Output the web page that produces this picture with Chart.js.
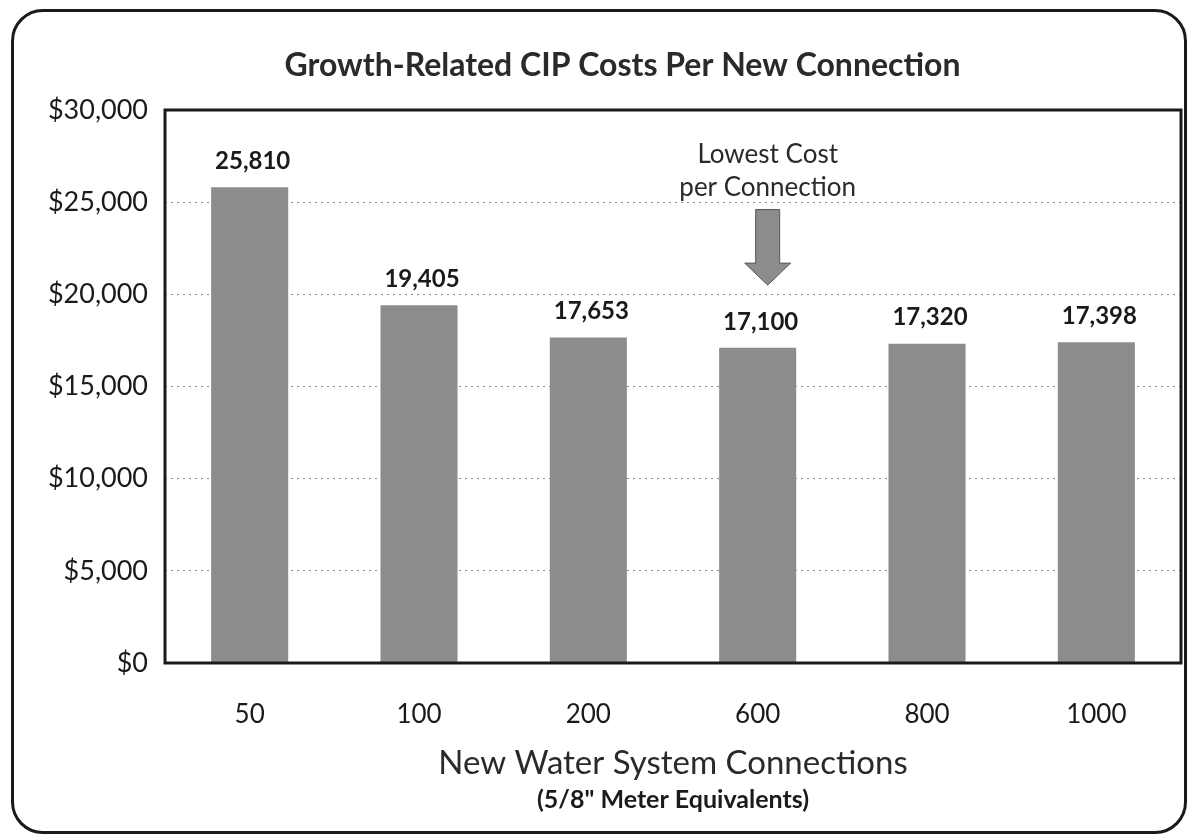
<!DOCTYPE html>
<html>
<head>
<meta charset="utf-8">
<title>Growth-Related CIP Costs Per New Connection</title>
<script src="https://cdn.jsdelivr.net/npm/chart.js@4"></script>
<style>
  html, body { margin: 0; padding: 0; background: #fff; }
  .outline { position: absolute; left: 11px; top: 9px; width: 1170px; height: 819px; border: 3px solid #1a1a1a; border-radius: 32px; }
  .wrap { position: absolute; left: 0; top: 0; width: 1189px; height: 840px; }
</style>
</head>
<body>
<div class="outline"></div>
<div class="wrap"><canvas id="costChart"></canvas></div>
<script>
const connections = ['50', '100', '200', '600', '800', '1000'];
const costPerConnection = [25810, 19405, 17653, 17100, 17320, 17398];
const costTicks = [0, 5000, 10000, 15000, 20000, 25000, 30000];

// callout over the cheapest option, placed in dollar units
const noteLines = ['Lowest Cost', 'per Connection'];
const noteLineValues = [27560, 25770];
const arrowFrom = 24600;
const arrowTo = 20500;

const chartTitle = 'Growth-Related CIP Costs Per New Connection';
const subTitle = '(5/8" Meter Equivalents)';
const ink = '#1a1a1a';
const barGray = '#8c8c8c';

const money = v => '$' + v.toLocaleString('en-US');

const chartExtras = {
  id: 'chartExtras',
  afterDatasetsDraw(chart) {
    const { ctx, chartArea: a, scales: { x, y } } = chart;
    ctx.save();
    ctx.textAlign = 'center';
    ctx.textBaseline = 'middle';

    // heading, sits a bit right of the canvas middle
    ctx.fillStyle = '#2a2a2a';
    ctx.font = 'bold 32px Lato';
    ctx.fillText(chartTitle, chart.width / 2 + 28, a.top - 44);

    // value labels above the bars
    ctx.fillStyle = ink;
    ctx.font = 'bold 24px Lato';
    costPerConnection.forEach((v, i) => {
      ctx.fillText(v.toLocaleString('en-US'), x.getPixelForValue(i) + 3, y.getPixelForValue(v) - 26);
    });

    // lowest cost note + arrow
    const low = costPerConnection.indexOf(Math.min(...costPerConnection));
    const cx = x.getPixelForValue(low) + 10;
    ctx.font = '26px Lato';
    ctx.fillStyle = '#2a2a2a';
    noteLines.forEach((t, i) => ctx.fillText(t, cx, y.getPixelForValue(noteLineValues[i])));

    const top = y.getPixelForValue(arrowFrom);
    const tip = y.getPixelForValue(arrowTo);
    const neck = tip - 22;
    ctx.beginPath();
    ctx.moveTo(cx - 12, top);
    ctx.lineTo(cx + 12, top);
    ctx.lineTo(cx + 12, neck);
    ctx.lineTo(cx + 23, neck);
    ctx.lineTo(cx, tip);
    ctx.lineTo(cx - 23, neck);
    ctx.lineTo(cx - 12, neck);
    ctx.closePath();
    ctx.fillStyle = barGray;
    ctx.fill();
    ctx.strokeStyle = '#555';
    ctx.lineWidth = 1;
    ctx.stroke();

    // box around the plot
    ctx.strokeStyle = ink;
    ctx.lineWidth = 3;
    ctx.strokeRect(a.left, a.top, a.width, a.height);

    // second line of the x axis title
    ctx.fillStyle = ink;
    ctx.font = 'bold 25px Lato';
    ctx.fillText(subTitle, (a.left + a.right) / 2, x.bottom - 40);
    ctx.restore();
  }
};

const ctx = document.getElementById('costChart').getContext('2d');

const chart = new Chart(ctx, {
  type: 'bar',
  data: {
    labels: connections,
    datasets: [{
      label: 'Cost per connection',
      data: costPerConnection,
      backgroundColor: barGray,
      barPercentage: 0.455,
      categoryPercentage: 1
    }]
  },
  options: {
    responsive: true,
    maintainAspectRatio: false,
    animation: false,
    layout: { padding: { top: 110, left: 40, right: 8, bottom: 0 } },
    plugins: {
      legend: { display: false },
      tooltip: { enabled: false },
      title: { display: false }
    },
    scales: {
      x: {
        grid: { display: false, drawTicks: false },
        border: { display: false },
        ticks: { color: ink, font: { family: 'Lato', size: 26 }, padding: 36 },
        title: {
          display: true,
          text: 'New Water System Connections',
          color: '#2a2a2a',
          font: { family: 'Lato', size: 33, lineHeight: 1.2 },
          padding: { top: 0, bottom: 57 }
        },
        afterFit: s => { s.height = 177; }
      },
      y: {
        min: 0,
        max: 30000,
        afterBuildTicks: s => { s.ticks = costTicks.map(v => ({ value: v })); },
        grid: { color: '#8a8a8a', lineWidth: 1, drawTicks: false },
        border: { display: false, dash: [2, 4] },
        ticks: { color: ink, font: { family: 'Lato', size: 27 }, padding: 17, callback: v => money(v) },
        afterFit: s => { s.width = 125; }
      }
    }
  },
  plugins: [chartExtras]
});
</script>
</body>
</html>
